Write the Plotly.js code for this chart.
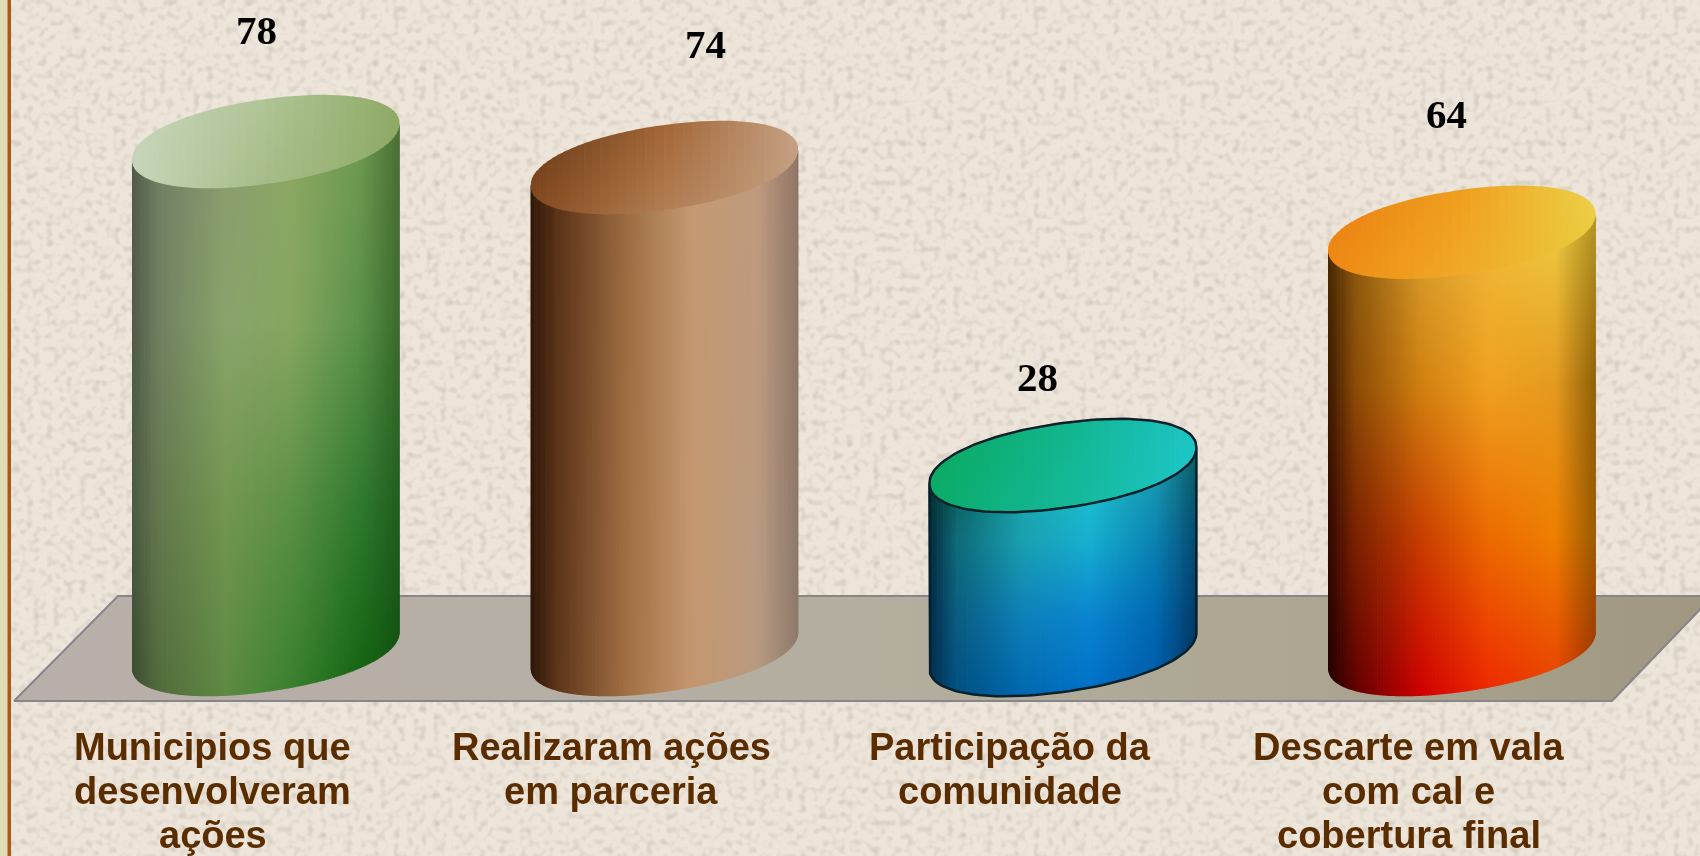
<!DOCTYPE html>
<html lang="pt">
<head>
<meta charset="utf-8">
<script src="https://cdn.plot.ly/plotly-3.0.1.min.js"></script>
<style>
html,body{margin:0;padding:0;width:1700px;height:856px;overflow:hidden;background:#ede5da}
#chart{width:1700px;height:856px;filter:blur(0.5px)}
</style>
</head>
<body>
<div id="chart"></div>
<script>
// ---- data ----
const categories = ["Municipios que<br>desenvolveram<br>ações", "Realizaram ações<br>em parceria", "Participação da<br>comunidade", "Descarte em vala<br>com cal e<br>cobertura final"];
const values = [78, 74, 28, 64];

// ---- styles ----
const uStops = [0, .1, .35, .6, .85, 1];
const vStops = [0, .33, .66, 1];
const bodyColors = [
  [["#4f5a48","#707f64","#8a9c70","#8ca763","#6e9a50","#4a6f35"],
   ["#4f5a48","#6f8060","#8aa36a","#86a660","#5b9148","#3a6a2c"],
   ["#4a5a42","#64784e","#72964f","#5b9044","#2f7a2e","#1f5e1c"],
   ["#3a4a30","#526b3c","#5e8a42","#38802e","#13640f","#0d4f0e"]],
  [["#2e1708","#5a3218","#9a6a40","#c49a70","#bf9a7f","#8f7565"],
   ["#2e1708","#5b3318","#9c6b40","#c4986f","#bc9a80","#8e7768"],
   ["#2c1608","#5c3419","#9e6d41","#c4976e","#ba9a80","#8d7869"],
   ["#2b1508","#5d3519","#a06e42","#c4966e","#b89a80","#8c7a6a"]],
  [["#04352f","#0a5c50","#1aa8a8","#1ec4ce","#1a9db0","#0a5a68"],
   ["#032a3c","#0d6a78","#1aa0b0","#16b0d0","#0a80b0","#044a70"],
   ["#022a48","#0a5c80","#0d80b8","#0a84d0","#0068b0","#023a68"],
   ["#01304f","#004f80","#0068b0","#0070c8","#0058a8","#012f58"]],
  [["#4a2a00","#8a5a10","#d8a030","#f0b838","#eec840","#b09020"],
   ["#3a1a00","#8a4a05","#d08010","#f0a020","#e49a20","#906008"],
   ["#300800","#7a2000","#c83e00","#ec6a00","#ee7f00","#9a5a00"],
   ["#200000","#600000","#d00000","#ee2800","#e84000","#a03000"]]
];
const capUStops = [0, .5, 1];
const capVStops = [0, 1];
const capColors = [
  [["#c8d6bc","#b2c69a","#8eaa64"],["#c6d5b8","#a4ba84","#8eaa64"]],
  [["#5c3414","#a0602f","#c4a082"],["#8c4d20","#b4835a","#c4a082"]],
  [["#0aa85a","#10b488","#1cc4c4"],["#0cac6a","#14b89a","#1ec8cc"]],
  [["#e87a10","#ef9c1c","#eed24a"],["#f08c14","#f0ac28","#e8c838"]]
];
const outlineColors = [null, null, "#07202a", null];
const baseColors = ["#7f9f5a", "#a87a50", "#1090c0", "#e88010"];
const labelShiftX = [-9.5, 41.5, -25, -15];
const labelShiftY = [110.6, 122.5, 87.6, 117];

// ---- scales: pixels per unit on the two axes ----
const W = 1700, H = 856, plotBottom = 710;
const pxPerValue = 6.48, zeroPx = 646;
const pxPerCat = 398.7, firstCatPx = 265.5;
const xOfPx = p => (p - firstCatPx) / pxPerCat;
const yOfPx = p => (zeroPx - p) / pxPerValue;
const rx = 133.5, skew = 18, ry = 42.5, ryBase = 41.5, roundness = 2.12;
const baseY = yOfPx(650.5);
const capDrop = 1;
const labelCatOffset = -53;

function hex2(c){return [parseInt(c.slice(1,3),16),parseInt(c.slice(3,5),16),parseInt(c.slice(5,7),16)];}
function mix(a,b,t){const A=hex2(a),B=hex2(b);return 'rgb('+A.map((v,i)=>Math.round(v+(B[i]-v)*t)).join(',')+')';}
function rowAt(row,stops,u){
  for(let i=0;i<stops.length-1;i++){
    if(u<=stops[i+1]){return mix(row[i],row[i+1],(u-stops[i])/(stops[i+1]-stops[i]));}
  }
  return row[row.length-1];
}
function strip(xs,ys,start,stop,scale){
  return {type:'scatter',mode:'lines',x:xs,y:ys,fill:'toself',line:{width:0},hoverinfo:'skip',showlegend:false,
    fillcolor:scale[0][1],fillgradient:{type:'vertical',start:start,stop:stop,colorscale:scale}};
}
const arc = c => Math.pow(Math.max(0,1-Math.pow(Math.abs(c),roundness)),1/roundness);
const traces = [];

// real bars carrying the values, sitting inside the cylinders
traces.push({type:'bar',x:[0,1,2,3],y:values,width:.5,marker:{color:baseColors,line:{width:0}},hoverinfo:'x+y',showlegend:false});

// floor
traces.push({type:'scatter',mode:'lines',
  x:[xOfPx(14),xOfPx(118),xOfPx(1713),xOfPx(1612),xOfPx(14)],
  y:[yOfPx(701),yOfPx(596),yOfPx(596),yOfPx(701),yOfPx(701)],
  fill:'toself',line:{color:'#85858a',width:2},hoverinfo:'skip',showlegend:false,
  fillcolor:'#b2ad9c',
  fillgradient:{type:'horizontal',colorscale:[[0,'#b8afaa'],[.5,'#b4aea0'],[.75,'#aca692'],[1,'#9f9780']]}});

// cylinders
const N = 110, M = 44;
values.forEach((v,i)=>{
  const cx = firstCatPx + i*pxPerCat;
  const cyTop = zeroPx - v*pxPerValue + capDrop;
  const cyBot = zeroPx - baseY*pxPerValue;
  const lower = (cy,c,b)=>cy - skew*c + b*arc(c);
  const upper = (cy,c,b)=>cy - skew*c - b*arc(c);
  const gradTop = cyTop, gradBot = cyBot + ryBase + 2;
  // body
  for(let k=0;k<N;k++){
    const t0=Math.PI*k/N, t1=Math.PI*(k+1)/N;
    const xs=[],ys=[];
    const cs=[];
    for(let j=0;j<=2;j++){cs.push(-Math.cos(t0+(t1-t0)*j/2));}
    const last=cs[cs.length-1];
    cs.forEach(c=>{xs.push(xOfPx(cx+rx*c));ys.push(yOfPx(lower(cyTop,c,ry)-1));});
    const extra = k<N-1 ? 0.7 : 0;
    xs.push(xOfPx(cx+rx*last+extra));ys.push(yOfPx(lower(cyTop,last,ry)-1));
    xs.push(xOfPx(cx+rx*last+extra));ys.push(yOfPx(lower(cyBot,last,ryBase)));
    [...cs].reverse().forEach(c=>{xs.push(xOfPx(cx+rx*c));ys.push(yOfPx(lower(cyBot,c,ryBase)));});
    const u=(-Math.cos((t0+t1)/2)+1)/2;
    const scale=vStops.map((s,r)=>[1-s,rowAt(bodyColors[i][r],uStops,u)]).reverse();
    traces.push(strip(xs,ys,yOfPx(gradBot),yOfPx(gradTop),scale));
  }
  // cap
  for(let k=0;k<M;k++){
    const t0=Math.PI*k/M, t1=Math.PI*(k+1)/M;
    const xs=[],ys=[];
    const cs=[];
    for(let j=0;j<=3;j++){cs.push(-Math.cos(t0+(t1-t0)*j/3));}
    const extra = k<M-1 ? 0.7 : 0;
    cs.forEach(c=>{xs.push(xOfPx(cx+rx*c));ys.push(yOfPx(upper(cyTop,c,ry)));});
    xs.push(xOfPx(cx+rx*cs[3]+extra));ys.push(yOfPx(upper(cyTop,cs[3],ry)));
    xs.push(xOfPx(cx+rx*cs[3]+extra));ys.push(yOfPx(lower(cyTop,cs[3],ry)));
    [...cs].reverse().forEach(c=>{xs.push(xOfPx(cx+rx*c));ys.push(yOfPx(lower(cyTop,c,ry)));});
    const u=(-Math.cos((t0+t1)/2)+1)/2;
    const scale=capVStops.map((s,r)=>[1-s,rowAt(capColors[i][r],capUStops,u)]).reverse();
    traces.push(strip(xs,ys,yOfPx(cyTop+ry+18),yOfPx(cyTop-ry-18),scale));
  }
  // outline
  if(outlineColors[i]){
    const lx=[],ly=[];
    for(let k=0;k<=60;k++){const c=-Math.cos(Math.PI*k/60);lx.push(xOfPx(cx+rx*c));ly.push(yOfPx(upper(cyTop,c,ry)));}
    for(let k=60;k>=0;k--){const c=-Math.cos(Math.PI*k/60);lx.push(xOfPx(cx+rx*c));ly.push(yOfPx(lower(cyTop,c,ry)));}
    lx.push(xOfPx(cx-rx));ly.push(yOfPx(lower(cyBot,-1,ryBase)));
    for(let k=0;k<=60;k++){const c=-Math.cos(Math.PI*k/60);lx.push(xOfPx(cx+rx*c));ly.push(yOfPx(lower(cyBot,c,ryBase)));}
    lx.push(xOfPx(cx+rx));ly.push(yOfPx(lower(cyTop,1,ry)));
    traces.push({type:'scatter',mode:'lines',x:lx,y:ly,line:{color:outlineColors[i],width:2.5},hoverinfo:'skip',showlegend:false});
  }
});

// text
const annotations = [];
values.forEach((v,i)=>{
  annotations.push({x:i,y:v,xref:'x',yref:'y',text:'<b>'+v+'</b>',showarrow:false,
    xanchor:'center',yanchor:'middle',xshift:labelShiftX[i],yshift:labelShiftY[i],
    font:{family:'"Liberation Serif","Times New Roman",serif',size:41,color:'#000'}});
  categories[i].split('<br>').forEach((line,n)=>{
    annotations.push({x:i,y:0,xref:'x',yref:'paper',text:'<b>'+line+'</b>',showarrow:false,
      xanchor:'center',yanchor:'top',xshift:labelCatOffset,yshift:-(14+44*n),
      font:{family:'"Liberation Sans",Arial,sans-serif',size:38,color:'#5a2d00'}});
  });
});

const layout = {
  width:W,height:H,
  margin:{l:0,r:0,t:0,b:H-plotBottom,pad:0},
  paper_bgcolor:'rgba(0,0,0,0)',plot_bgcolor:'rgba(0,0,0,0)',
  showlegend:false,barmode:'overlay',
  xaxis:{range:[xOfPx(0),xOfPx(W)],visible:false,fixedrange:true},
  yaxis:{range:[yOfPx(plotBottom),yOfPx(0)],visible:false,fixedrange:true},
  shapes:[
    {type:'rect',xref:'paper',yref:'paper',x0:0,x1:7.5/W,y0:-1,y1:1,fillcolor:'#e1dcb6',line:{width:0},layer:'below'},
    {type:'rect',xref:'paper',yref:'paper',x0:7.5/W,x1:11/W,y0:-1,y1:1,fillcolor:'#a85a18',line:{width:0},layer:'below'}
  ],
  annotations:annotations
};

// paper texture
const tex = '<svg xmlns="http://www.w3.org/2000/svg" width="640" height="640"><filter id="n" x="0" y="0" width="100%" height="100%"><feTurbulence type="fractalNoise" baseFrequency="0.15" numOctaves="2" seed="11" stitchTiles="stitch"/><feGaussianBlur stdDeviation="1"/><feColorMatrix type="matrix" values="0 0 0 0 .45  0 0 0 0 .40  0 0 0 0 .32  1.3 0 0 0 -0.62"/></filter><rect width="100%" height="100%" filter="url(#n)"/></svg>';
document.body.style.backgroundImage = 'url("data:image/svg+xml,'+encodeURIComponent(tex)+'")';

Plotly.newPlot('chart',traces,layout,{displayModeBar:false,responsive:false});
</script>
</body>
</html>
